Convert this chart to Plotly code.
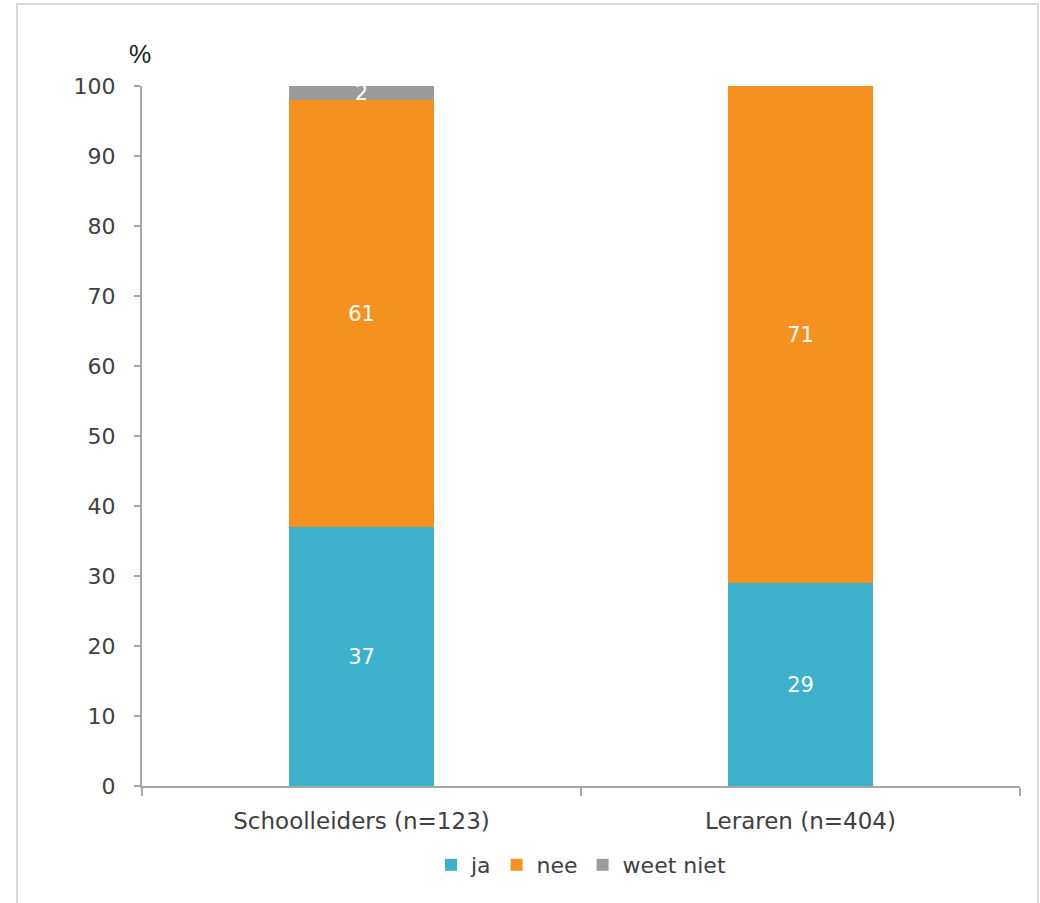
import plotly.graph_objects as go

categories = ["Schoolleiders (n=123)", "Leraren (n=404)"]
ja = [37, 29]
nee = [61, 71]
weet_niet = [2, None]

series = [
    ("ja", ja, "#3DB0CC"),
    ("nee", nee, "#F5911E"),
    ("weet niet", weet_niet, "#9B9B9B"),
]

FONT = "DejaVu Sans, Verdana, sans-serif"
TEXT_COLOR = "#404040"
AXIS_COLOR = "#A6A6A6"

fig = go.Figure()
for name, values, color in series:
    fig.add_trace(go.Bar(
        name=name,
        x=categories,
        y=values,
        marker=dict(color=color, line=dict(width=0)),
        text=values,
        texttemplate="%{y:.0f}",
        textposition="inside",
        insidetextanchor="middle",
        textangle=0,
        constraintext="none",
        textfont=dict(family=FONT, size=21, color="white"),
        hoverinfo="skip",
    ))

W, H = 1040, 903
ml, mr, mt, mb = 142, 20, 86, 117
pw, ph = W - ml - mr, H - mt - mb

def px_x(x):
    return (x - ml) / pw

def px_y(y):
    return (H - mb - y) / ph

fig.update_layout(
    barmode="stack",
    bargap=0.67,
    width=W,
    height=H,
    margin=dict(l=ml, r=mr, t=mt, b=mb),
    paper_bgcolor="white",
    plot_bgcolor="white",
    font=dict(family=FONT, size=22, color=TEXT_COLOR),
    legend=dict(
        orientation="h",
        traceorder="normal",
        x=0.5,
        xanchor="center",
        y=px_y(865),
        yanchor="middle",
        font=dict(family=FONT, size=22, color=TEXT_COLOR),
        itemwidth=30,
        tracegroupgap=0,
    ),
    showlegend=True,
    xaxis=dict(
        showline=True,
        linecolor=AXIS_COLOR,
        linewidth=2,
        ticks="outside",
        tickson="boundaries",
        ticklen=8,
        tickcolor=AXIS_COLOR,
        tickwidth=2,
        showgrid=False,
        tickfont=dict(family=FONT, size=23, color=TEXT_COLOR),
        ticklabelstandoff=13,
    ),
    yaxis=dict(
        range=[0, 100],
        tickvals=list(range(0, 101, 10)),
        showline=True,
        linecolor=AXIS_COLOR,
        linewidth=2,
        ticks="outside",
        ticklen=6,
        tickcolor=AXIS_COLOR,
        tickwidth=2,
        showgrid=False,
        zeroline=False,
        tickfont=dict(family=FONT, size=22, color=TEXT_COLOR),
        ticklabelstandoff=14,
    ),
    annotations=[
        dict(
            text="%",
            xref="paper", yref="paper",
            x=px_x(140), y=px_y(54),
            xanchor="center", yanchor="middle",
            showarrow=False,
            font=dict(family="Liberation Sans Narrow, Liberation Sans, sans-serif", size=25, color="#202020"),
        )
    ],
    shapes=[
        dict(
            type="rect",
            xref="paper", yref="paper",
            x0=px_x(17), x1=px_x(1038),
            y0=px_y(910), y1=px_y(4),
            line=dict(color="#D9D9D9", width=2),
            fillcolor="rgba(0,0,0,0)",
            layer="below",
        )
    ],
)

fig.write_html("out.html")
